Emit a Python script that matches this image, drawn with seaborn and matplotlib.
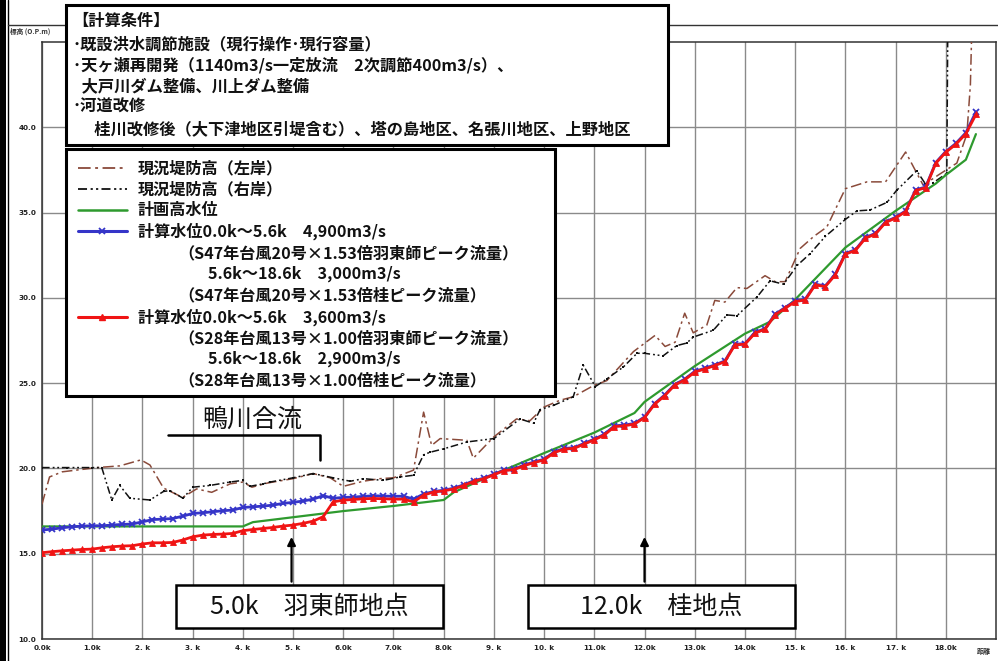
import matplotlib
matplotlib.use("Agg")
import matplotlib.pyplot as plt
from matplotlib.lines import Line2D
from matplotlib.patches import Rectangle
import pandas as pd
import seaborn as sns

# ---------------------------------------------------------------- data
# Existing levee crown, left bank (km, O.P.m)
left_km = [0.0, 0.15, 0.4, 1.1, 1.55, 1.97, 2.15, 2.42, 2.8, 3.08, 3.38, 3.75, 4.0, 4.18,
           4.5, 5.0, 5.4, 5.74, 6.0, 6.4, 6.73, 7.0, 7.4, 7.6, 7.76, 7.93, 8.46, 8.59,
           9.0, 9.45, 9.72, 10.0, 10.32, 10.58, 10.98, 11.25, 11.78, 12.21, 12.41, 12.61,
           12.8, 12.97, 13.24, 13.4, 13.6, 13.84, 14.04, 14.4, 14.6, 14.8, 15.1, 15.37,
           15.63, 16.0, 16.43, 16.8, 17.2, 17.55, 17.85, 18.22, 18.42, 18.49, 18.52]
left_lv = [17.9, 19.5, 19.8, 20.05, 20.15, 20.5, 20.2, 18.85, 18.3, 18.8, 18.6, 19.1, 19.2, 18.9,
           19.15, 19.4, 19.7, 19.45, 18.95, 19.25, 19.4, 19.45, 19.9, 23.3, 21.35, 21.75, 21.65, 20.6,
           21.85, 22.9, 22.8, 23.6, 24.0, 24.2, 24.85, 25.15, 26.85, 27.8, 27.15, 27.4,
           29.1, 27.95, 28.4, 29.85, 29.75, 30.6, 30.55, 31.3, 30.95, 30.95, 32.9, 33.6,
           34.15, 36.4, 36.8, 36.8, 38.55, 36.6, 37.2, 37.9, 39.6, 42.5, 46.0]

# Existing levee crown, right bank (km, O.P.m)
right_km = [0.0, 0.5, 1.0, 1.19, 1.39, 1.55, 1.75, 2.15, 2.42, 2.55, 2.81, 3.0, 3.34, 3.74,
            4.0, 4.14, 4.41, 4.54, 5.0, 5.4, 5.8, 6.14, 6.4, 6.8, 7.13, 7.4, 7.6, 7.73, 8.0,
            8.46, 9.0, 9.52, 9.79, 9.92, 10.19, 10.58, 10.78, 11.02, 11.25, 11.58, 11.85, 12.0,
            12.37, 12.64, 12.84, 12.97, 13.37, 13.64, 13.84, 14.24, 14.5, 14.77, 15.04, 15.3,
            15.6, 16.0, 16.23, 16.49, 16.83, 17.02, 17.42, 17.59, 17.75, 18.02, 18.04]
right_lv = [20.05, 20.05, 20.05, 20.05, 18.15, 19.0, 18.25, 18.15, 18.65, 18.7, 18.25, 18.9, 19.0, 19.2,
            19.3, 18.95, 19.1, 19.2, 19.45, 19.7, 19.45, 19.25, 19.4, 19.3, 19.5, 19.6, 20.8, 20.95, 21.15,
            21.55, 21.75, 22.9, 22.65, 23.45, 23.7, 24.2, 26.05, 24.8, 25.25, 25.95, 26.75, 26.75,
            26.6, 27.2, 27.35, 27.7, 28.1, 29.0, 28.95, 30.05, 31.0, 30.8, 31.9, 32.6,
            33.6, 34.6, 35.1, 35.15, 35.6, 36.3, 37.45, 36.7, 36.75, 37.3, 46.0]

# Planned high water level
hwl_km = [0.0, 4.0, 4.2, 6.0, 7.0, 8.0, 8.2, 9.0, 10.0, 11.0, 11.8, 12.0, 13.0, 14.0,
          14.5, 15.0, 16.0, 17.0, 17.8, 18.0, 18.4, 18.6]
hwl_lv = [16.6, 16.6, 16.85, 17.5, 17.8, 18.15, 18.6, 19.65, 20.9, 22.1, 23.25, 23.9, 26.0, 27.9,
          28.6, 29.9, 32.95, 35.1, 36.7, 37.2, 38.1, 39.6]

# Computed water level sections (km)
calc_km = [0.0, 0.2, 0.4, 0.6, 0.8, 1.0, 1.2, 1.4, 1.6, 1.8, 2.0, 2.2, 2.4, 2.6, 2.8, 3.0,
           3.2, 3.4, 3.6, 3.8, 4.0, 4.2, 4.4, 4.6, 4.8, 5.0, 5.2, 5.4, 5.6, 5.8, 6.0, 6.2,
           6.4, 6.6, 6.8, 7.0, 7.2, 7.4, 7.6, 7.8, 8.0, 8.2, 8.4, 8.6, 8.8, 9.0, 9.2, 9.4,
           9.6, 9.8, 10.0, 10.2, 10.4, 10.6, 10.8, 11.0, 11.2, 11.4, 11.6, 11.8, 12.0, 12.2,
           12.4, 12.6, 12.8, 13.0, 13.2, 13.4, 13.6, 13.8, 14.0, 14.2, 14.4, 14.6, 14.8, 15.0,
           15.2, 15.4, 15.6, 15.8, 16.0, 16.2, 16.4, 16.6, 16.8, 17.0, 17.2, 17.4, 17.6, 17.8,
           18.0, 18.2, 18.4, 18.6]

# S47 typhoon No.20 x 1.53
calc_s47 = [16.39, 16.44, 16.52, 16.58, 16.62, 16.64, 16.64, 16.68, 16.72, 16.74, 16.87, 17.0,
            17.03, 17.06, 17.2, 17.36, 17.4, 17.46, 17.52, 17.56, 17.71, 17.75, 17.79, 17.85,
            17.95, 18.01, 18.09, 18.2, 18.4, 18.25, 18.3, 18.32, 18.36, 18.4, 18.38, 18.37,
            18.37, 18.2, 18.5, 18.65, 18.72, 18.84, 19.04, 19.28, 19.43, 19.66, 19.9, 19.95,
            20.2, 20.38, 20.54, 20.97, 21.17, 21.22, 21.47, 21.72, 22.0, 22.5, 22.54, 22.64,
            23.02, 23.8, 24.3, 24.92, 25.23, 25.69, 25.87, 26.07, 26.3, 27.28, 27.32, 27.97,
            28.2, 29.04, 29.43, 29.82, 29.92, 30.8, 30.7, 31.39, 32.6, 32.82, 33.54, 33.78,
            34.46, 34.72, 35.1, 36.33, 36.5, 37.93, 38.58, 39.05, 39.68, 40.9]

# S28 typhoon No.13 x 1.00
calc_s28 = [15.06, 15.12, 15.17, 15.21, 15.25, 15.27, 15.35, 15.41, 15.45, 15.47, 15.57, 15.64,
            15.64, 15.66, 15.8, 15.99, 16.09, 16.13, 16.15, 16.19, 16.35, 16.42, 16.48, 16.54,
            16.62, 16.68, 16.78, 16.91, 17.17, 18.04, 18.14, 18.18, 18.22, 18.24, 18.22, 18.2,
            18.2, 18.04, 18.43, 18.62, 18.68, 18.8, 19.0, 19.24, 19.4, 19.63, 19.87, 19.93,
            20.16, 20.34, 20.5, 20.93, 21.13, 21.18, 21.43, 21.68, 21.96, 22.45, 22.5, 22.6,
            22.98, 23.76, 24.26, 24.88, 25.19, 25.65, 25.83, 26.03, 26.26, 27.24, 27.28, 27.93,
            28.16, 29.0, 29.39, 29.78, 29.88, 30.76, 30.66, 31.35, 32.56, 32.78, 33.5, 33.74,
            34.42, 34.68, 35.06, 36.29, 36.46, 37.89, 38.54, 39.0, 39.62, 40.75]

x_ticks = [0, 1, 2, 3, 4, 5, 6, 7, 8, 9, 10, 11, 12, 13, 14, 15, 16, 17, 18]
x_tick_labels = ["0.0k", "1.0k", "2. k", "3. k", "4. k", "5. k", "6.0k", "7.0k", "8.0k",
                 "9. k", "10. k", "11.0k", "12.0k", "13.0k", "14.0k", "15. k", "16. k",
                 "17. k", "18.0k"]
y_ticks = [10, 15, 20, 25, 30, 35, 40]
y_tick_labels = ["10.0", "15.0", "20.0", "25.0", "30.0", "35.0", "40.0"]

condition_lines = [
    "【計算条件】",
    "･既設洪水調節施設（現行操作･現行容量）",
    "･天ヶ瀬再開発（1140m3/s一定放流　2次調節400m3/s）、",
    " 大戸川ダム整備、川上ダム整備",
    "･河道改修",
    "　桂川改修後（大下津地区引堤含む）、塔の島地区、名張川地区、上野地区",
]

# ---------------------------------------------------------------- style
sns.set_style("white")
plt.rcParams["font.family"] = ["Noto Sans CJK JP", "DejaVu Sans"]

C_LEFT = "#8a4a3a"
C_RIGHT = "#111111"
C_HWL = "#2e9a2e"
C_S47 = "#3535c8"
C_S28 = "#f01414"
LS_LEFT = (0, (7, 2.5, 1.6, 2.5))
LS_RIGHT = (0, (5, 2, 1.2, 1.8, 1.2, 1.8))

W, H = 998, 661
fig = plt.figure(figsize=(W / 100, H / 100), dpi=100)


def fx(px):
    return px / W


def fy(py):
    return 1 - py / H


ax = fig.add_axes([fx(42), fy(639), fx(996) - fx(42), fy(42) - fy(639)])

# ---------------------------------------------------------------- series
df_left = pd.DataFrame({"km": left_km, "lv": left_lv})
df_right = pd.DataFrame({"km": right_km, "lv": right_lv})
df_hwl = pd.DataFrame({"km": hwl_km, "lv": hwl_lv})
df_calc = pd.DataFrame({"km": calc_km, "s47": calc_s47, "s28": calc_s28})

sns.lineplot(data=df_left, x="km", y="lv", ax=ax, sort=False, estimator=None,
             color=C_LEFT, lw=1.1, linestyle=LS_LEFT, zorder=3)
sns.lineplot(data=df_right, x="km", y="lv", ax=ax, sort=False, estimator=None,
             color=C_RIGHT, lw=1.1, linestyle=LS_RIGHT, marker="s", markersize=2,
             markeredgewidth=0, zorder=3)
sns.lineplot(data=df_hwl, x="km", y="lv", ax=ax, sort=False, estimator=None,
             color=C_HWL, lw=1.6, zorder=4)
sns.lineplot(data=df_calc, x="km", y="s47", ax=ax, sort=False, estimator=None,
             color=C_S47, lw=2.0, marker="x", markersize=4.5, markeredgewidth=1.3,
             markeredgecolor=C_S47, zorder=5)
sns.lineplot(data=df_calc, x="km", y="s28", ax=ax, sort=False, estimator=None,
             color=C_S28, lw=2.0, marker="^", markersize=4.5, markeredgewidth=0.6,
             markeredgecolor=C_S28, zorder=6)

# ---------------------------------------------------------------- axes
ax.set_xlim(0, 19)
ax.set_ylim(10, 45)
ax.set_xlabel("")
ax.set_ylabel("")
ax.set_xticks(x_ticks)
ax.set_xticklabels(x_tick_labels)
ax.set_yticks(y_ticks)
ax.set_yticklabels(y_tick_labels)
ax.set_xticks([i / 5 for i in range(0, 95)], minor=True)
ax.set_yticks(list(range(10, 46)), minor=True)
ax.tick_params(axis="both", which="major", direction="in", length=5, width=0.9,
               labelsize=5.2, colors="#222222", pad=4)
ax.tick_params(axis="both", which="minor", direction="in", length=3.5, width=0.8)
for lab in ax.get_xticklabels() + ax.get_yticklabels():
    lab.set_fontweight("bold")
    lab.set_family(["DejaVu Sans"])
ax.grid(True, which="major", color="#8a8a8a", lw=1.0)
for side, sp in ax.spines.items():
    sp.set_color("#333333")
    sp.set_linewidth(1.1)

fig.text(fx(10), fy(31), "標高 (O.P.m)", fontsize=4.8, color="#333333",
         va="center", ha="left", fontweight="bold")
fig.text(fx(984), fy(651), "距離", fontsize=5, color="#333333",
         va="center", ha="center", fontweight="bold")

# ---------------------------------------------------------------- page frame
fig.add_artist(Rectangle((0, 0), fx(6), 1, transform=fig.transFigure,
                         facecolor="black", edgecolor="none", zorder=1))
fig.add_artist(Line2D([fx(8), fx(8)], [0, 1], transform=fig.transFigure,
                      color="black", lw=1.0))
fig.add_artist(Line2D([fx(8), 1], [fy(25), fy(25)], transform=fig.transFigure,
                      color="#333333", lw=1.0))


def box(x0, y0, x1, y1, lw=2.2):
    fig.add_artist(Rectangle((fx(x0), fy(y1)), fx(x1) - fx(x0), fy(y0) - fy(y1),
                             transform=fig.transFigure, facecolor="white",
                             edgecolor="black", lw=lw, zorder=10))


# calculation conditions
box(66, 5, 668, 145)
cond_y = [21, 44, 65, 86, 107, 129]
cond_x = [72, 73, 73, 78, 73, 78]
for t, yy, xx in zip(condition_lines, cond_y, cond_x):
    fig.text(fx(xx), fy(yy), t, fontsize=11.7, fontweight="bold", va="center",
             ha="left", zorder=11, color="#111111")

# legend
box(66, 149, 555, 396)
leg_rows = [
    (168, 138, "現況堤防高（左岸）"),
    (189, 138, "現況堤防高（右岸）"),
    (210, 138, "計画高水位"),
    (231, 138, "計算水位0.0k～5.6k　4,900m3/s"),
    (253, 178, "（S47年台風20号×1.53倍羽東師ピーク流量）"),
    (274, 208, "5.6k～18.6k　3,000m3/s"),
    (295, 178, "（S47年台風20号×1.53倍桂ピーク流量）"),
    (317, 138, "計算水位0.0k～5.6k　3,600m3/s"),
    (338, 178, "（S28年台風13号×1.00倍羽東師ピーク流量）"),
    (359, 208, "5.6k～18.6k　2,900m3/s"),
    (380, 178, "（S28年台風13号×1.00倍桂ピーク流量）"),
]
for yy, xx, t in leg_rows:
    fig.text(fx(xx), fy(yy), t, fontsize=11.6, fontweight="bold", va="center",
             ha="left", zorder=11, color="#111111")

samples = [
    (168, dict(color=C_LEFT, lw=1.3, linestyle=LS_LEFT)),
    (189, dict(color=C_RIGHT, lw=1.3, linestyle=LS_RIGHT)),
    (210, dict(color=C_HWL, lw=1.8)),
    (231, dict(color=C_S47, lw=2.2, marker="x", markevery=[1], markersize=5,
               markeredgewidth=1.3)),
    (317, dict(color=C_S28, lw=2.2, marker="^", markevery=[1], markersize=5)),
]
for yy, kw in samples:
    fig.add_artist(Line2D([fx(78), fx(102), fx(127)], [fy(yy)] * 3,
                          transform=fig.transFigure, zorder=12, **kw))

# ---------------------------------------------------------------- annotations
ax.text(4.18, 22.85, "鴨川合流", fontsize=18, ha="center", va="center", zorder=8,
        color="#111111")
ax.plot([2.51, 5.54, 5.54], [21.95, 21.95, 20.5], color="black", lw=1.8, zorder=8)

for kp, label, bx0, bx1 in [(4.97, "5.0k　羽東師地点", 176, 443),
                            (12.0, "12.0k　桂地点", 528, 795)]:
    ax.annotate("", xy=(kp, 16.15), xytext=(kp, 13.2),
                arrowprops=dict(arrowstyle="-|>", color="black", lw=1.6,
                                mutation_scale=12), zorder=8)
    box(bx0, 585, bx1, 628, lw=1.8)
    fig.text(fx((bx0 + bx1) / 2), fy(607), label, fontsize=18, ha="center",
             va="center", zorder=11, color="#111111")

fig.savefig("out.png", dpi=100)
